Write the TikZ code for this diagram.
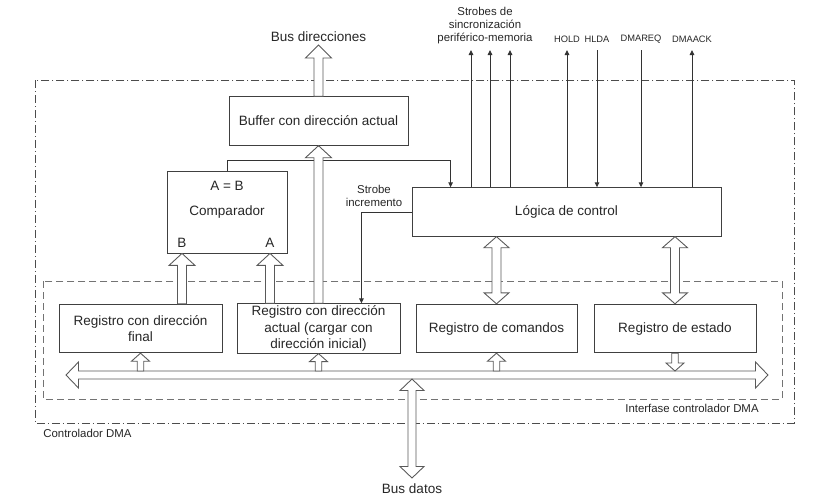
\documentclass[tikz,border=0pt]{standalone}
\usepackage{fontspec}
\setmainfont{Liberation Sans}
\usetikzlibrary{positioning, arrows.meta, calc}

\begin{document}
\begin{tikzpicture}[x=0.02cm, y=-0.02cm,
    every node/.style={font=\fontsize{7.7}{9.4}\selectfont, text=black!85},
    blk/.style={draw=black!75, line width=0.5pt, inner sep=1pt, align=center,
                minimum height=0.97cm},
    lbl/.style={font=\fontsize{6.5}{7.4}\selectfont, align=center, inner sep=1pt},
    sigtxt/.style={font=\fontsize{5.3}{6}\selectfont, anchor=south,
                   inner xsep=1pt, inner ysep=3.8pt},
    sig/.style={draw=black!80, line width=0.5pt, -{Triangle[length=1mm, width=0.9mm]}},
    outerbox/.style={draw=black!70, line width=0.5pt,
                     dash pattern=on 0.16cm off 0.06cm on 0.02cm off 0.06cm},
    innerbox/.style={draw=black!55, line width=0.5pt, dash pattern=on 0.14cm off 0.08cm},
    hollow/.style={draw=black!65, fill=white, line width=0.5pt},
    % flecha gruesa hueca: semiancho cuerpo / semiancho punta / largo punta
    fat/.style args={#1/#2/#3}{to path={
        ($(\tikztostart)!#1!90:(\tikztotarget)$)
        -- ($(\tikztotarget)!#3!(\tikztostart)!#1!-90:(\tikztostart)$)
        -- ($(\tikztotarget)!#3!(\tikztostart)!#2!-90:(\tikztostart)$)
        -- (\tikztotarget)
        -- ($(\tikztotarget)!#3!(\tikztostart)!#2!90:(\tikztostart)$)
        -- ($(\tikztotarget)!#3!(\tikztostart)!#1!90:(\tikztostart)$)
        -- ($(\tikztostart)!#1!-90:(\tikztotarget)$)
        -- cycle}},
    fatboth/.style args={#1/#2/#3}{to path={
        ($(\tikztostart)!#3!(\tikztotarget)!#1!90:(\tikztotarget)$)
        -- ($(\tikztotarget)!#3!(\tikztostart)!#1!-90:(\tikztostart)$)
        -- ($(\tikztotarget)!#3!(\tikztostart)!#2!-90:(\tikztostart)$)
        -- (\tikztotarget)
        -- ($(\tikztotarget)!#3!(\tikztostart)!#2!90:(\tikztostart)$)
        -- ($(\tikztotarget)!#3!(\tikztostart)!#1!90:(\tikztostart)$)
        -- ($(\tikztostart)!#3!(\tikztotarget)!#1!-90:(\tikztotarget)$)
        -- ($(\tikztostart)!#3!(\tikztotarget)!#2!-90:(\tikztotarget)$)
        -- (\tikztostart)
        -- ($(\tikztostart)!#3!(\tikztotarget)!#2!90:(\tikztotarget)$)
        -- cycle}},
]
\useasboundingbox (0,0) rectangle (833,495);

% --- marcos ---------------------------------------------------------
\draw[outerbox] (35,80) rectangle (794,423);
\draw[innerbox] (43,281) rectangle (782,399);
\node[lbl, anchor=west, inner sep=0pt] (ctrl) at (43,433) {Controlador DMA};
\node[lbl, anchor=east, inner sep=0pt] (intf) at (759,408) {Interfase controlador DMA};

% --- bloques --------------------------------------------------------
\node[blk, minimum width=3.58cm] (buffer) at (318.5,121) {Buffer con dirección actual};
\node[blk, minimum width=2.4cm, minimum height=1.64cm] (comp) at (227,212) {};
\node (eq) at (227,186) {A = B};
\node (compname) at (227,212) {Comparador};
\node (labB) at (182,243) {B};
\node (labA) at (270,243) {A};
\node[blk, minimum width=6.18cm] (logica) at (566.5,212) {Lógica de control};

\node[blk, minimum width=3.26cm] (regfin) at (140.5,328.5) {Registro con dirección\\final};
\node[blk, minimum width=3.26cm] (regact) at (318.5,328.5)
    {Registro con dirección\\actual (cargar con\\dirección inicial)};
\node[blk, minimum width=3.22cm] (regcom) at (496.5,328.5) {Registro de comandos};
\node[blk, minimum width=3.24cm] (regest) at (675,328.5) {Registro de estado};

% --- etiquetas externas ---------------------------------------------
\node[anchor=south, inner ysep=1.7pt] (busdir) at (318.5,45) {Bus direcciones};
\node[anchor=north, inner ysep=2.8pt] (busdat) at (412,478) {Bus datos};
\node[lbl, anchor=south, inner ysep=3.2pt] (strobes) at (485,50)
    {Strobes de\\sincronización\\periférico-memoria};
\node[sigtxt] (hold)   at (567,50) {HOLD};
\node[sigtxt] (hlda)   at (597,50) {HLDA};
\node[sigtxt] (dmareq) at (641,50) {DMAREQ};
\node[sigtxt] (dmaack) at (692,50) {DMAACK};
\node[lbl] (strobeinc) at (374,196) {Strobe\\incremento};

% --- señales de control ---------------------------------------------
\foreach \dx in {-14,5,25}
    \draw[sig] ($(logica.north -| strobes.south)+(\dx,0)$) -- ($(strobes.south)+(\dx,0)$);
\draw[sig] (logica.north -| hold.south) -- (hold.south);
\draw[sig] (hlda.south) -- (logica.north -| hlda.south);
\draw[sig] (dmareq.south) -- (logica.north -| dmareq.south);
\draw[sig] (logica.north -| dmaack.south) -- (dmaack.south);

\draw[sig] (comp.north) -- ++(0,-10) -| ($(logica.north west)+(39,0)$);
\draw[sig] (logica.west) -| ($(regact.north east)+(-39,0)$);

% --- buses (flechas huecas) -----------------------------------------
\coordinate (busL) at (66,375);
\coordinate (busR) at (768,375);
\coordinate (bustop) at (0,371);
\coordinate (busbot) at (0,379);
\draw[hollow, fatboth=0.08cm/0.26cm/0.25cm] (busL) to (busR);
\draw[hollow, fatboth=0.08cm/0.24cm/0.23cm] (busdat.north) to (busdat.north |- busbot);

\foreach \r in {regfin, regact, regcom}
    \draw[hollow, fat=0.065cm/0.18cm/0.16cm] (\r.south |- bustop) to (\r.south);
\draw[hollow, fat=0.065cm/0.18cm/0.16cm] (regest.south) to (regest.south |- bustop);

\draw[hollow, fat=0.09cm/0.26cm/0.24cm] (regfin.north -| labB) to (comp.south -| labB);
\draw[hollow, fat=0.09cm/0.26cm/0.24cm] (regact.north -| labA) to (comp.south -| labA);
\draw[hollow, fat=0.09cm/0.26cm/0.24cm] (regact.north) to (buffer.south);
\draw[hollow, fat=0.09cm/0.26cm/0.26cm] (buffer.north) to (busdir.south);

\draw[hollow, fatboth=0.09cm/0.25cm/0.22cm] (logica.south -| regcom.north) to (regcom.north);
\draw[hollow, fatboth=0.09cm/0.25cm/0.22cm] (logica.south -| regest.north) to (regest.north);

\end{tikzpicture}
\end{document}
